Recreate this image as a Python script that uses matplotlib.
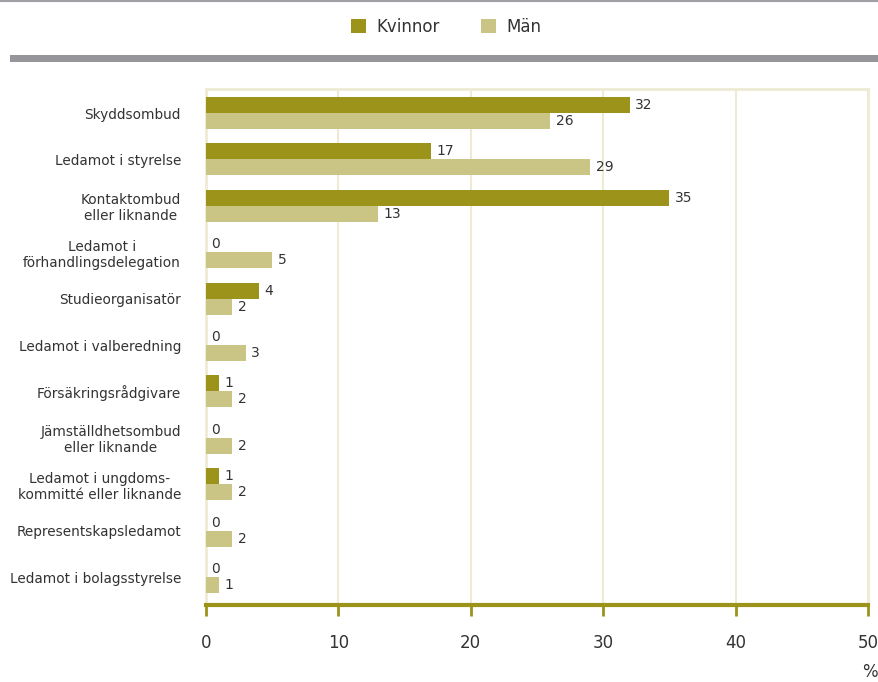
import matplotlib
matplotlib.use("Agg")
import matplotlib.pyplot as plt
import numpy as np
from matplotlib.patches import Patch, Rectangle
from matplotlib.lines import Line2D

# data
categories = [
    "Skyddsombud",
    "Ledamot i styrelse",
    "Kontaktombud\neller liknande",
    "Ledamot i\nförhandlingsdelegation",
    "Studieorganisatör",
    "Ledamot i valberedning",
    "Försäkringsrådgivare",
    "Jämställdhetsombud\neller liknande",
    "Ledamot i ungdoms-\nkommitté eller liknande",
    "Representskapsledamot",
    "Ledamot i bolagsstyrelse",
]
kvinnor = [32, 17, 35, 0, 4, 0, 1, 0, 1, 0, 0]
man = [26, 29, 13, 5, 2, 3, 2, 2, 2, 2, 1]
series_names = ["Kvinnor", "Män"]
xticks = [0, 10, 20, 30, 40, 50]

col_k = "#9c931a"
col_m = "#cbc585"
grid_col = "#eeead3"
text_col = "#333333"

W, H = 879, 682
fig = plt.figure(figsize=(W / 100, H / 100), dpi=100)
ax = fig.add_axes([206 / W, (H - 605) / H, 662 / W, 516 / H])

y = np.arange(len(categories))
bh = 0.345
bars_k = ax.barh(y - bh / 2, kvinnor, height=bh, color=col_k, zorder=3)
bars_m = ax.barh(y + bh / 2, man, height=bh, color=col_m, zorder=3)

for bars, vals in [(bars_k, kvinnor), (bars_m, man)]:
    for b, v in zip(bars, vals):
        ax.annotate(str(v), (b.get_width(), b.get_y() + b.get_height() / 2),
                    xytext=(4, 0), textcoords="offset points",
                    ha="left", va="center", fontsize=10, color=text_col)

ax.set_xlim(0, 50)
ax.set_ylim(10 + 28 / 46.4, -24 / 46.4)
ax.set_xticks(xticks)
ax.set_xticklabels([str(t) for t in xticks], fontsize=12, color=text_col)
ax.set_yticks(y)
ax.set_yticklabels(categories, fontsize=9.8, color=text_col, multialignment="center")
ax.tick_params(axis="y", length=0, pad=18)
ax.tick_params(axis="x", direction="out", length=8, width=2, color=col_k, pad=13)

ax.xaxis.grid(True, color=grid_col, linewidth=1.5, zorder=0)
for s in ["left", "top", "right"]:
    ax.spines[s].set_color(grid_col)
    ax.spines[s].set_linewidth(2)
ax.spines["bottom"].set_color(col_k)
ax.spines["bottom"].set_linewidth(3)

fig.text(870 / W, 1 - 672 / H, "%", fontsize=12, color=text_col,
         ha="center", va="center")

# decorative grey rules
fig.add_artist(Line2D([0, 1], [1 - 1 / H, 1 - 1 / H], color="#a0a0a4", linewidth=1.5))
fig.add_artist(Rectangle((10 / W, 1 - 62 / H), 1 - 10 / W, 7 / H,
                         facecolor="#96969a", edgecolor="none",
                         transform=fig.transFigure))

handles = [Patch(facecolor=col_k), Patch(facecolor=col_m)]
fig.legend(handles, series_names, loc="center", bbox_to_anchor=(446 / W, 1 - 27 / H),
           ncol=2, frameon=False, fontsize=12, handlelength=0.9, handleheight=0.9,
           columnspacing=2.5, handletextpad=0.6, labelcolor=text_col)

fig.savefig("out.png", dpi=100)
